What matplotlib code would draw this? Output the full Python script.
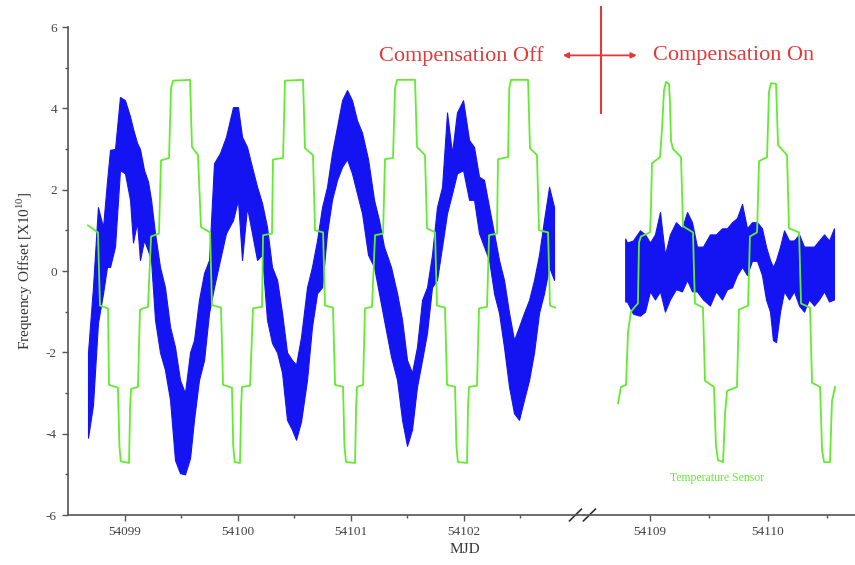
import matplotlib
matplotlib.use("Agg")
import matplotlib.pyplot as plt
from matplotlib.ticker import FixedLocator

plt.rcParams['font.family'] = ['Liberation Serif', 'DejaVu Serif']
plt.rcParams['mathtext.fontset'] = 'custom'
plt.rcParams['mathtext.rm'] = 'Liberation Serif'
plt.rcParams['axes.unicode_minus'] = False

BLUE = '#1414f2'
GREEN = '#62ec30'
RED = '#e03a3a'
GREY = '#555555'

# ---- frequency offset (blue), upper / lower edge of the noisy trace, before the gap
mjd_off = [54098.677, 54098.721, 54098.765, 54098.810, 54098.845, 54098.872, 54098.916,
           54098.960, 54099.004, 54099.049, 54099.075, 54099.111, 54099.137, 54099.173,
           54099.208, 54099.235, 54099.270, 54099.314, 54099.358, 54099.403, 54099.447,
           54099.491, 54099.535, 54099.580, 54099.615, 54099.659, 54099.704, 54099.748,
           54099.792, 54099.845, 54099.898, 54099.960, 54100.004, 54100.040, 54100.084,
           54100.128, 54100.173, 54100.217, 54100.261, 54100.305, 54100.350, 54100.394,
           54100.438, 54100.482, 54100.518, 54100.562, 54100.615, 54100.659, 54100.704,
           54100.748, 54100.792, 54100.836, 54100.881, 54100.925, 54100.969, 54101.013,
           54101.058, 54101.102, 54101.155, 54101.208, 54101.252, 54101.296, 54101.358,
           54101.412, 54101.456, 54101.500, 54101.544, 54101.588, 54101.633, 54101.677,
           54101.721, 54101.765, 54101.810, 54101.854, 54101.898, 54101.942, 54101.996,
           54102.049, 54102.093, 54102.137, 54102.181, 54102.226, 54102.270, 54102.314,
           54102.358, 54102.403, 54102.447, 54102.491, 54102.535, 54102.580, 54102.624,
           54102.668, 54102.712, 54102.757, 54102.801]
hi_off = [-2.0, -0.4, 1.57, 1.08, 2.2, 2.98, 3.0, 4.28, 4.2, 3.8, 3.5, 3.15, 3.0, 2.48,
          2.2, 1.75, 0.93, 0.1, -0.4, -1.37, -1.87, -2.68, -3.0, -2.0, -1.7, -0.71,
          -0.05, 0.27, 2.65, 2.9, 3.3, 4.03, 4.03, 3.3, 3.05, 2.56, 2.07, 1.67, 1.08,
          0.1, -0.22, -1.03, -2.0, -2.19, -2.3, -1.62, -0.4, 0.1, 0.76, 1.57, 2.07, 2.9,
          3.55, 4.2, 4.45, 4.2, 3.7, 3.4, 2.75, 1.75, 1.25, 0.6, 0.1, -0.55, -1.2, -2.19,
          -2.5, -1.87, -0.71, -0.4, 0.4, 1.57, 2.07, 3.9, 2.9, 3.9, 4.2, 3.22, 3.05,
          2.32, 2.24, 1.57, 0.93, 0.27, -0.22, -1.03, -1.7, -1.37, -1.03, -0.71, -0.22,
          0.4, 1.25, 2.07, 1.57]
lo_off = [-4.1, -3.3, -1.28, -0.55, 0.1, 0.1, 0.6, 2.48, 2.4, 1.75, 0.7, 1.2, 0.27, 0.76,
          0.5, 0.27, -1.2, -2.0, -2.43, -3.17, -4.65, -4.97, -5.0, -4.6, -3.66, -2.68,
          -2.19, -1.03, -0.4, 0.27, 0.93, 1.25, 1.75, 0.27, 1.57, 0.93, 0.27, 0.4, -1.2,
          -1.77, -2.0, -2.5, -3.66, -3.9, -4.15, -3.7, -2.68, -1.37, -0.55, -0.4, 0.93,
          1.75, 2.24, 2.56, 2.75, 2.4, 1.9, 1.42, 0.4, 0.1, -0.55, -1.2, -2.1, -2.68,
          -3.66, -4.3, -3.9, -2.85, -2.19, -1.52, -0.4, -0.22, 0.6, 1.42, 1.9, 2.4, 2.48,
          1.75, 1.75, 0.93, 0.6, 0.27, -0.55, -1.03, -1.87, -2.85, -3.5, -3.66, -3.17,
          -2.68, -2.0, -1.03, -0.55, 0.1, -0.22]

# ---- frequency offset (blue), after the gap
mjd_on = [54108.790, 54108.805, 54108.856, 54108.915, 54108.958, 54109.000, 54109.042,
          54109.085, 54109.127, 54109.169, 54109.220, 54109.271, 54109.314, 54109.356,
          54109.398, 54109.449, 54109.508, 54109.559, 54109.610, 54109.653, 54109.695,
          54109.737, 54109.780, 54109.822, 54109.864, 54109.907, 54109.949, 54109.983,
          54110.017, 54110.042, 54110.068, 54110.102, 54110.136, 54110.178, 54110.220,
          54110.263, 54110.305, 54110.347, 54110.390, 54110.432, 54110.475, 54110.517,
          54110.559]
hi_on = [0.8, 0.7, 0.75, 1.0, 0.9, 0.7, 0.9, 1.45, 0.4, 0.9, 1.2, 1.05, 1.45, 1.2, 0.6,
         0.6, 0.9, 0.9, 1.05, 1.05, 1.2, 1.3, 1.65, 1.05, 1.2, 1.2, 1.05, 0.6, 0.27, 0.1,
         0.27, 0.6, 1.0, 0.75, 0.75, 0.9, 0.6, 0.6, 0.6, 0.75, 0.9, 0.75, 1.05]
lo_on = [-0.75, -0.75, -1.05, -1.1, -1.0, -0.5, -0.7, -0.5, -1.0, -0.7, -0.45, -0.5,
         -0.22, -0.5, -0.5, -0.7, -0.85, -0.5, -0.7, -0.45, -0.4, -0.1, 0.1, -0.1, 0.25,
         0.25, -0.1, -0.7, -1.0, -1.7, -1.75, -1.0, -0.5, -0.7, -0.5, -0.85, -1.0, -0.7,
         -0.85, -0.7, -0.5, -0.75, -0.7]

# ---- temperature sensor (green)
mjd_temp_off = [54098.677, 54098.765, 54098.783, 54098.854, 54098.863, 54098.942, 54098.955,
                54098.967, 54099.040, 54099.050, 54099.058, 54099.119, 54099.137, 54099.208,
                54099.235, 54099.305, 54099.323, 54099.394, 54099.412, 54099.429, 54099.580,
                54099.597, 54099.650, 54099.677, 54099.757, 54099.774, 54099.854, 54099.872,
                54099.951, 54099.962, 54099.975, 54100.022, 54100.032, 54100.040, 54100.111,
                54100.137, 54100.217, 54100.226, 54100.305, 54100.314, 54100.403, 54100.420,
                54100.580, 54100.597, 54100.668, 54100.686, 54100.757, 54100.774, 54100.845,
                54100.863, 54100.934, 54100.946, 54100.960, 54101.040, 54101.050, 54101.058,
                54101.111, 54101.128, 54101.190, 54101.217, 54101.288, 54101.305, 54101.376,
                54101.394, 54101.412, 54101.571, 54101.588, 54101.659, 54101.677, 54101.748,
                54101.765, 54101.836, 54101.854, 54101.925, 54101.937, 54101.950, 54102.031,
                54102.040, 54102.049, 54102.119, 54102.137, 54102.208, 54102.226, 54102.296,
                54102.305, 54102.394, 54102.405, 54102.420, 54102.571, 54102.588, 54102.650,
                54102.668, 54102.748, 54102.765, 54102.810]
temp_off = [1.12, 0.95, -0.85, -0.92, -2.8, -2.87, -4.3, -4.68, -4.72, -3.3, -2.9, -2.85,
            -0.95, -0.88, 0.85, 0.92, 2.72, 2.78, 4.5, 4.68, 4.7, 3.05, 2.85, 1.08, 0.95,
            -0.84, -0.9, -2.8, -2.87, -4.3, -4.7, -4.72, -3.3, -2.85, -2.82, -0.92, -0.88,
            0.88, 0.92, 2.74, 2.78, 4.68, 4.7, 3.02, 2.85, 1.0, 0.95, -0.85, -0.9, -2.8,
            -2.85, -4.3, -4.7, -4.72, -3.3, -2.85, -2.8, -0.92, -0.88, 0.88, 0.92, 2.75,
            2.78, 4.5, 4.7, 4.7, 3.05, 2.85, 1.05, 0.95, -0.85, -0.9, -2.8, -2.85, -4.3,
            -4.7, -4.72, -3.3, -2.85, -2.82, -0.92, -0.88, 0.88, 0.92, 2.75, 2.8, 4.5, 4.7,
            4.7, 3.02, 2.85, 1.0, 0.95, -0.85, -0.9]

mjd_temp_on = [54108.729, 54108.754, 54108.797, 54108.814, 54108.839, 54108.881, 54108.898,
               54108.907, 54108.924, 54109.000, 54109.008, 54109.017, 54109.085, 54109.102,
               54109.119, 54109.136, 54109.161, 54109.169, 54109.178, 54109.195, 54109.263,
               54109.280, 54109.364, 54109.381, 54109.449, 54109.466, 54109.542, 54109.559,
               54109.576, 54109.619, 54109.636, 54109.653, 54109.737, 54109.754, 54109.831,
               54109.847, 54109.907, 54109.924, 54109.992, 54110.008, 54110.025, 54110.068,
               54110.085, 54110.161, 54110.178, 54110.263, 54110.280, 54110.356, 54110.373,
               54110.441, 54110.458, 54110.475, 54110.525, 54110.542, 54110.568]
temp_on = [-3.25, -2.85, -2.8, -1.5, -1.0, -0.85, -0.8, 0.7, 0.85, 0.95, 1.5, 2.65, 2.8,
           3.5, 4.45, 4.65, 4.6, 4.2, 3.2, 3.0, 2.8, 1.1, 0.95, -0.8, -0.9, -2.7, -2.85,
           -4.3, -4.65, -4.7, -3.5, -2.95, -2.85, -0.95, -0.85, 0.85, 0.95, 2.7, 2.8, 4.4,
           4.62, 4.6, 3.1, 2.85, 1.05, 0.95, -0.8, -0.9, -2.75, -2.85, -4.4, -4.7, -4.7,
           -3.2, -2.85]

yticks = [-6, -4, -2, 0, 2, 4, 6]
xticks_off = [54099, 54100, 54101, 54102]
xticks_on = [54109, 54110]


def style_axis(ax, major, minor):
    for side in ['top', 'right']:
        ax.spines[side].set_visible(False)
    ax.spines['bottom'].set_color(GREY)
    ax.spines['bottom'].set_linewidth(1.2)
    ax.spines['left'].set_color(GREY)
    ax.spines['left'].set_linewidth(1.2)
    ax.xaxis.set_major_locator(FixedLocator(major))
    ax.xaxis.set_minor_locator(FixedLocator(minor))
    ax.xaxis.set_major_formatter(plt.FormatStrFormatter('%d'))
    ax.tick_params(axis='both', which='major', direction='out', length=4, width=1,
                   color=GREY, labelsize=9.5, labelcolor='#444444', pad=4)
    ax.tick_params(axis='both', which='minor', direction='out', length=2.5, width=1,
                   color=GREY)
    ax.set_ylim(-6, 6)
    ax.patch.set_alpha(0)


fig = plt.figure(figsize=(8.55, 5.65), dpi=100)
ax1 = fig.add_axes([68 / 855, 50 / 565, 516 / 855, 488 / 565])
ax2 = fig.add_axes([584 / 855, 50 / 565, 271 / 855, 488 / 565])

ax1.fill_between(mjd_off, lo_off, hi_off, color=BLUE, lw=0.8)
ax1.plot(mjd_temp_off, temp_off, color=GREEN, lw=1.3)
ax2.fill_between(mjd_on, lo_on, hi_on, color=BLUE, lw=0.8)
ax2.plot(mjd_temp_on, temp_on, color=GREEN, lw=1.3)

ax1.set_xlim(54098.5, 54103.066)
ax2.set_xlim(54108.441, 54110.737)
style_axis(ax1, xticks_off, [54099.5, 54100.5, 54101.5, 54102.5])
style_axis(ax2, xticks_on, [54109.5, 54110.5])
ax1.yaxis.set_major_locator(FixedLocator(yticks))
ax1.yaxis.set_minor_locator(FixedLocator([-5, -3, -1, 1, 3, 5]))
ax2.spines['left'].set_visible(False)
ax2.tick_params(axis='y', which='both', left=False, labelleft=False)

ax1.set_ylabel('Frequency Offset [X10$^{10}$]', fontsize=11, color='#333333')
ax1.yaxis.set_label_coords(-0.064, 0.5)
fig.text(0.544, 0.027, 'MJD', fontsize=11, color='#333333', ha='center', va='center')

# break marks on the x axis
ax1.plot([0.972, 0.995], [-0.012, 0.012], transform=ax1.transAxes, color='#333333',
         lw=1.2, clip_on=False)
ax2.plot([-0.002, 0.042], [-0.012, 0.012], transform=ax2.transAxes, color='#333333',
         lw=1.2, clip_on=False)

# annotations
fig.text(0.539, 0.901, 'Compensation Off', fontsize=16, color=RED, ha='center', va='center')
fig.text(0.858, 0.901, 'Compensation On', fontsize=16, color=RED, ha='center', va='center')
fig.add_artist(plt.Line2D([0.703, 0.703], [0.800, 0.988], color=RED, lw=1.5))
fig.patches.append(matplotlib.patches.FancyArrowPatch(
    (0.655, 0.902), (0.748, 0.902), transform=fig.transFigure, arrowstyle='<|-|>',
    mutation_scale=8, color=RED, lw=1.3))
ax2.text(54109.568, -5.1, 'Temperature Sensor', fontsize=8.5, color=GREEN,
         ha='center', va='center')

plt.savefig('out.png', dpi=100)
